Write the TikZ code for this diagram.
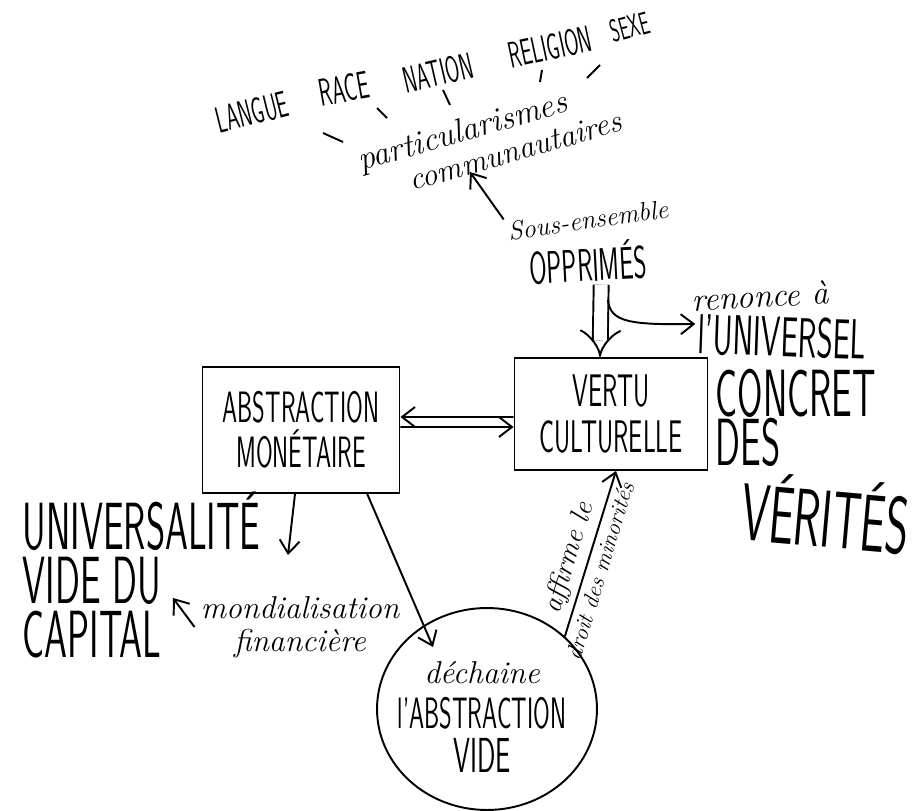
\documentclass[tikz,border=0pt]{standalone}
\usepackage{tikz}
\usetikzlibrary{shapes,arrows.meta}

\newcommand{\handcaps}[1]{\scalebox{0.55}[1]{#1}}

\tikzset{
	caps/.style n args={2}{font=\sffamily\fontsize{#1}{#2}\selectfont, inner sep=1pt},
	script/.style n args={2}{font=\rmfamily\itshape\fontsize{#1}{#2}\selectfont, inner sep=1pt},
	box/.style={fill=white, draw=black, shape=rectangle, align=center},
}

\begin{document}
\begin{tikzpicture}[x=0.02cm, y=-0.02cm, line width=1.1pt, >={Straight Barb[length=2.6mm, width=4mm]}]
	\useasboundingbox (0,0) rectangle (920,811);
	
	% words at the top
	\node [caps={21}{21}, rotate=14] (langue) at (252,112) {\handcaps{LANGUE}};
	\node [caps={22}{22}, rotate=10] (race) at (344,89) {\handcaps{RACE}};
	\node [caps={21}{21}, rotate=13] (nation) at (438,73) {\handcaps{NATION}};
	\node [caps={21}{21}, rotate=12] (religion) at (550,47) {\handcaps{RELIGION}};
	\node [caps={18}{18}, rotate=15] (sexe) at (630,27) {\handcaps{SEXE}};
	\foreach \p/\q in {{323,133}/{343,142}, {377,108}/{387,118}, {443,90}/{450,105}, {542,70}/{540,82}, {587,78}/{600,65}}
		\draw (\p) -- (\q);
	
	\node [script={19}{19}, rotate=16] (part) at (463,133) {particularismes};
	\node [script={18}{18}, rotate=16] (comm) at (515,151) {communautaires};
	
	\node [script={15}{15}, rotate=8] (sous) at (588,220) {Sous-ensemble};
	\node [caps={26}{26}, rotate=3] (opp) at (588,262) {\handcaps{OPPRIMÉS}};
	
	% right side
	\node [script={19}{19}, rotate=3] (renonce) at (760,296) {renonce à};
	\node [caps={32}{32}, rotate=-2] (univ) at (782,337) {\handcaps{l'UNIVERSEL}};
	\node [caps={38}{28}, align=left, anchor=west] (concret) at (713,418) {\handcaps{CONCRET}\\\handcaps{DES}};
	\node [caps={46}{46}, rotate=-5] (verites) at (826,513) {\handcaps{VÉRITÉS}};
	
	% boxes
	\node [box, caps={25}{25.5}, minimum width=3.94cm, minimum height=2.52cm] (abstr) at (301,430) {\handcaps{ABSTRACTION}\\\handcaps{MONÉTAIRE}};
	\node [box, caps={26}{26}, minimum width=3.86cm, minimum height=2.24cm] (vertu) at (611,414) {\handcaps{VERTU}\\\handcaps{CULTURELLE}};
	
	% left side
	\node [caps={38}{31}, align=left, anchor=west] (capital) at (20,575) {\handcaps{UNIVERSALITÉ}\\\handcaps{VIDE DU}\\\handcaps{CAPITAL}};
	\node [script={18}{19}, align=center, inner sep=3pt] (mond) at (300,627) {mondialisation\\financière};
	
	% circle
	\node [draw=black, shape=ellipse, minimum width=4.4cm, minimum height=4.04cm, inner sep=0pt] (cercle) at (487,709) {};
	\node [caps={25}{25.5}, align=center] (dechaine) at (482,717) {{\rmfamily\itshape\fontsize{18}{18}\selectfont déchaine}\\\handcaps{l'ABSTRACTION}\\\handcaps{\fontsize{28}{28}\selectfont VIDE}};
	
	\coordinate (kp) at (470,172);
	\coordinate (kb) at (608,300);
	\coordinate (kv) at (288,555);
	\coordinate (kc) at (433,647);
	\coordinate (kk) at (173,598);
	
	\draw [->] (sous.north west) to (kp);
	\draw [double, double distance=0.26cm, -{Implies}] ([xshift=0.24cm]opp.south) to ([xshift=-0.22cm]vertu.north);
	\draw [->] (kb) .. controls (610,322) and (630,325) .. ([yshift=0.2cm]univ.west);
	
	\draw [->] ([yshift=-0.06cm]vertu.west) to ([yshift=0.26cm]abstr.east);
	\draw [->] ([yshift=0.06cm]abstr.east) to ([yshift=-0.26cm]vertu.west);
	
	\draw [->] ([xshift=-0.12cm]abstr.south) to (kv);
	\draw [->] (abstr.-44) to (kc);
	\draw [->] (mond.west) to (kk);
	
	\draw [->] (cercle.43) to node [script={16}{16}, sloped, above=2pt, pos=0.44] (affirme) {affirme le} node [script={13}{13}, sloped, below=2pt, pos=0.42] (droit) {droit des minorités} ([xshift=0.1cm]vertu.south);
	
\end{tikzpicture}
\end{document}
